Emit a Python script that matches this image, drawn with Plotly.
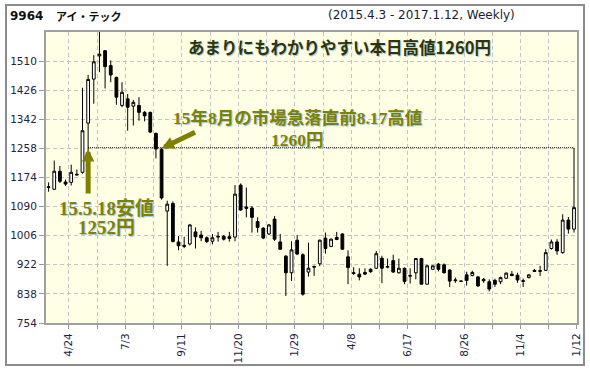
import pandas as pd
import plotly.graph_objects as go

# ---- data (weekly candles, week-start dates) ----
start_week = "2015-03-30"
opens = [1145, 1140, 1192, 1161, 1160, 1181, 1189, 1331, 1458, 1525,
         1540, 1497, 1463, 1382, 1401, 1380, 1382, 1362, 1362, 1301,
         1255, 1077, 1099, 988, 975, 982, 1017, 1008, 1000, 990,
         1002, 1004, 1003, 1002, 1152, 1089, 1086, 1047, 1028, 1011,
         1054, 988, 947, 899, 993, 951, 901, 915, 925, 999,
         975, 1001, 1011, 945, 897, 895, 900, 909, 912, 941,
         915, 934, 899, 912, 889, 899, 940, 866, 909, 924,
         922, 907, 876, 874, 893, 891, 887, 880, 873, 877,
         873, 883, 895, 892, 874, 885, 906, 903, 906, 969,
         988, 957, 1051, 1025]
highs = [1160, 1223, 1207, 1168, 1211, 1197, 1433, 1470, 1527, 1594,
         1542, 1512, 1465, 1449, 1415, 1398, 1406, 1366, 1364, 1304,
         1260, 1107, 1105, 1005, 1003, 1040, 1030, 1020, 1004, 1011,
         1017, 1008, 1017, 1152, 1157, 1145, 1092, 1059, 1030, 1040,
         1063, 1011, 950, 990, 1008, 955, 986, 920, 995, 1015,
         998, 1017, 1013, 964, 915, 912, 912, 912, 962, 948,
         940, 951, 940, 914, 912, 942, 942, 922, 921, 927,
         926, 909, 885, 876, 902, 905, 890, 884, 880, 882,
         888, 900, 904, 899, 882, 895, 910, 919, 967, 995,
         996, 1068, 1060, 1260]
lows = [1133, 1138, 1158, 1150, 1151, 1180, 1185, 1252, 1387, 1478,
        1431, 1449, 1384, 1377, 1309, 1324, 1338, 1336, 1303, 1229,
        1110, 919, 987, 964, 970, 978, 969, 990, 985, 981,
        989, 992, 989, 990, 1078, 1059, 1015, 1015, 996, 1008,
        991, 965, 832, 875, 950, 833, 888, 890, 918, 954,
        973, 993, 965, 866, 893, 877, 893, 899, 910, 869,
        912, 899, 897, 866, 868, 880, 866, 866, 907, 903,
        897, 858, 870, 873, 862, 889, 858, 870, 845, 858,
        866, 881, 889, 870, 858, 883, 901, 890, 904, 966,
        951, 954, 1012, 1015]
closes = [1147, 1192, 1163, 1155, 1189, 1183, 1309, 1457, 1508, 1530,
          1494, 1470, 1406, 1420, 1377, 1391, 1362, 1352, 1305, 1256,
          1115, 1097, 989, 977, 978, 1037, 1003, 1000, 989, 1000,
          1004, 996, 998, 1126, 1080, 1085, 1059, 1030, 999, 1037,
          996, 967, 899, 965, 953, 837, 912, 917, 993, 969,
          996, 995, 967, 914, 899, 887, 895, 902, 954, 912,
          917, 901, 912, 874, 891, 940, 866, 919, 919, 909,
          899, 875, 878, 875, 877, 900, 861, 876, 852, 866,
          885, 898, 891, 878, 876, 893, 903, 905, 957, 988,
          962, 1051, 1025, 1087]

tick_dates = ["2015-04-24", "2015-05-29", "2015-07-03", "2015-08-07", "2015-09-11",
              "2015-10-16", "2015-11-20", "2015-12-25", "2016-01-29", "2016-03-04",
              "2016-04-08", "2016-05-13", "2016-06-17", "2016-07-22", "2016-08-26",
              "2016-09-30", "2016-11-04", "2016-12-09", "2017-01-12"]
tick_labels = ["4/24", "", "7/3", "", "9/11", "", "11/20", "", "1/29", "",
               "4/8", "", "6/17", "", "8/26", "", "11/4", "", "1/12"]
y_ticks = [754, 838, 922, 1006, 1090, 1174, 1258, 1342, 1426, 1510]

dates = pd.date_range(start_week, periods=len(opens), freq="7D")

# ---- layout geometry (pixels) ----
W, H = 590, 371
L, R, T, B = 46, 577, 32, 323


def px(x):
    return (x - L) / (R - L)


def py(y):
    return (B - y) / (B - T)


fig = go.Figure()
fig.add_trace(go.Candlestick(
    x=dates, open=opens, high=highs, low=lows, close=closes,
    increasing=dict(fillcolor="white", line=dict(color="black", width=1)),
    decreasing=dict(fillcolor="black", line=dict(color="black", width=1)),
    whiskerwidth=0, showlegend=False, hoverinfo="skip",
))

olive = "#808000"
serif = "Liberation Serif, Noto Sans CJK JP"
halo = "1px 1px 1px #9ccbe6"

annotations = [
    dict(text="<b>9964</b>", x=px(8), y=py(16), xanchor="left", yanchor="middle",
         font=dict(family="DejaVu Sans", size=12, color="#111111")),
    dict(text="<b>アイ・テック</b>", x=px(54), y=py(16), xanchor="left", yanchor="middle",
         font=dict(family="Noto Sans CJK JP", size=11, color="#111111")),
    dict(text="(2015.4.3 - 2017.1.12, Weekly)", x=px(421.5), y=py(15), xanchor="center",
         yanchor="middle", font=dict(family="DejaVu Sans", size=12, color="#1a1a3a")),
    dict(text="<b>あまりにもわかりやすい本日高値1260円</b>", x=px(339), y=py(47),
         xanchor="center", yanchor="middle",
         font=dict(family="Noto Sans CJK JP", size=16.5, color="#333300", shadow=halo)),
    dict(text="<b>15年8月の市場急落直前8.17高値</b>", x=px(297), y=py(118),
         xanchor="center", yanchor="middle",
         font=dict(family=serif, size=17.5, color=olive, shadow=halo)),
    dict(text="<b>1260円</b>", x=px(297), y=py(140), xanchor="center", yanchor="middle",
         font=dict(family=serif, size=17.5, color=olive, shadow=halo)),
    dict(text="<b>15.5.18安値</b>", x=px(106), y=py(208), xanchor="center", yanchor="middle",
         font=dict(family=serif, size=19, color=olive, shadow=halo)),
    dict(text="<b>1252円</b>", x=px(106), y=py(227), xanchor="center", yanchor="middle",
         font=dict(family=serif, size=19, color=olive, shadow=halo)),
]
for a in annotations:
    a.update(xref="paper", yref="paper", showarrow=False)

# arrows
annotations.append(dict(x=dates[7], y=1256, xref="x", yref="y", text="", showarrow=True,
                        ax=0, ay=46, arrowhead=2, arrowsize=0.5, arrowwidth=5,
                        arrowcolor=olive))
annotations.append(dict(x=dates[20], y=1258, xref="x", yref="y", text="", showarrow=True,
                        ax=35, ay=-17, arrowhead=2, arrowsize=0.5, arrowwidth=5,
                        arrowcolor=olive))

shapes = [
    dict(type="line", xref="x", yref="y", x0=dates[7], x1=dates[-1], y0=1260, y1=1260,
         line=dict(color="black", width=1, dash="1px,1px")),
    dict(type="rect", xref="paper", yref="paper", x0=px(6), x1=px(584), y0=py(365), y1=py(5),
         line=dict(color="#8c8c8c", width=2), layer="below"),
]

tickfont = dict(family="DejaVu Sans", size=10.5, color="#222244")

fig.update_layout(
    width=W, height=H,
    margin=dict(l=L, r=W - R, t=T, b=H - B, autoexpand=False),
    paper_bgcolor="white", plot_bgcolor="#FFFFE6",
    annotations=annotations, shapes=shapes,
    xaxis=dict(
        type="date", range=["2015-03-26 19:00", "2017-01-12 17:00"],
        rangeslider=dict(visible=False), automargin=False,
        tickmode="array", tickvals=tick_dates, ticktext=tick_labels,
        tickangle=-90, tickfont=tickfont,
        ticks="outside", ticklen=4, tickcolor="#999999",
        showgrid=True, gridcolor="#c4c4c4", gridwidth=1, griddash="4px,3px",
        showline=True, linecolor="#a0a0a0", linewidth=2, mirror=True, zeroline=False,
    ),
    yaxis=dict(
        range=[754, 1594], tickmode="array", tickvals=y_ticks, automargin=False,
        ticktext=[str(v) for v in y_ticks], tickfont=tickfont,
        ticks="outside", ticklen=5, tickcolor="#999999",
        showgrid=True, gridcolor="#c4c4c4", gridwidth=1, griddash="4px,3px",
        showline=True, linecolor="#a0a0a0", linewidth=2, mirror=True, zeroline=False,
    ),
)

fig.write_html("out.html", config={"displayModeBar": False})
